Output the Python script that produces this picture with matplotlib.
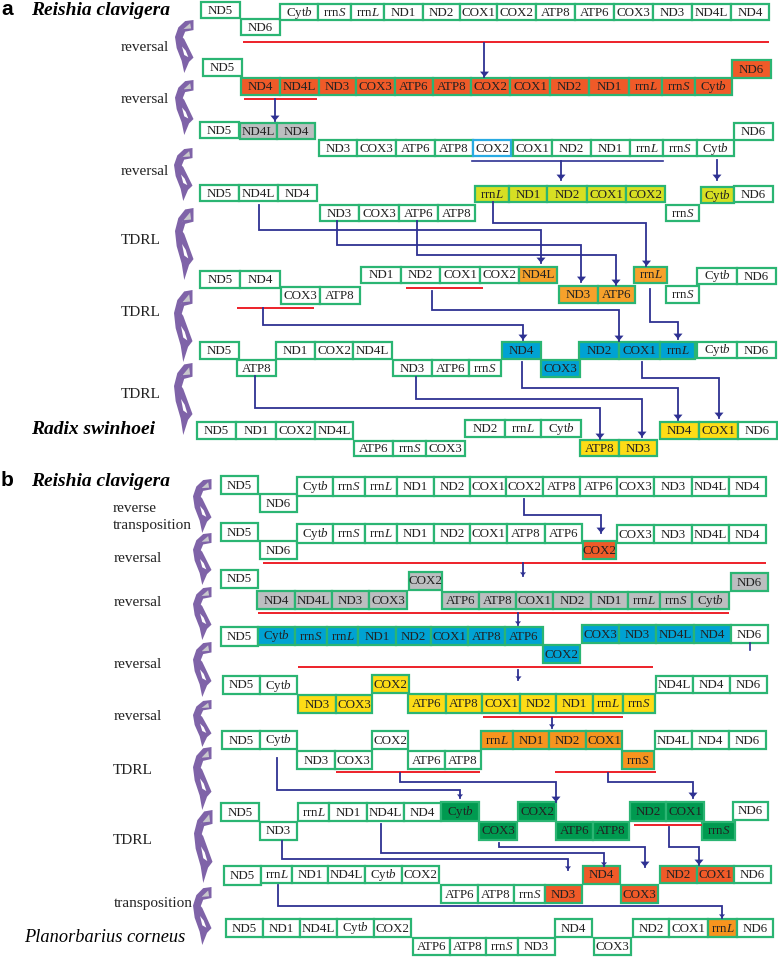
import matplotlib
matplotlib.use("Agg")
import matplotlib.pyplot as plt
from matplotlib.patches import Polygon, Rectangle

plt.rcParams['font.family'] = ['Liberation Serif', 'DejaVu Serif']
plt.rcParams['mathtext.fontset'] = 'custom'
plt.rcParams['mathtext.rm'] = 'Liberation Serif'
plt.rcParams['mathtext.it'] = 'Liberation Serif:italic'

WHITE = 'white'
RED_ORANGE = '#F05A28'
GRAY = '#BCBEC0'
LIME = '#D7DF23'
AMBER = '#F7A12B'
BLUE = '#00A2D3'
YELLOW = '#FDDC16'
GREEN = '#009A50'
ORANGE = '#F7941E'

# gene order of each genome row, read left to right
a_genes = [
    "ND5 ND6 Cytb rrnS rrnL ND1 ND2 COX1 COX2 ATP8 ATP6 COX3 ND3 ND4L ND4".split(),
    "ND5 ND4 ND4L ND3 COX3 ATP6 ATP8 COX2 COX1 ND2 ND1 rrnL rrnS Cytb ND6".split(),
    "ND5 ND4L ND4 ND3 COX3 ATP6 ATP8 COX2 COX1 ND2 ND1 rrnL rrnS Cytb ND6".split(),
    "ND5 ND4L ND4 ND3 COX3 ATP6 ATP8 rrnL ND1 ND2 COX1 COX2 rrnS Cytb ND6".split(),
    "ND5 ND4 COX3 ATP8 ND1 ND2 COX1 COX2 ND4L ND3 ATP6 rrnL rrnS Cytb ND6".split(),
    "ND5 ATP8 ND1 COX2 ND4L ND3 ATP6 rrnS ND4 COX3 ND2 COX1 rrnL Cytb ND6".split(),
    "ND5 ND1 COX2 ND4L ATP6 rrnS COX3 ND2 rrnL Cytb ATP8 ND3 ND4 COX1 ND6".split(),
]
b_genes = [
    "ND5 ND6 Cytb rrnS rrnL ND1 ND2 COX1 COX2 ATP8 ATP6 COX3 ND3 ND4L ND4".split(),
    "ND5 ND6 Cytb rrnS rrnL ND1 ND2 COX1 ATP8 ATP6 COX2 COX3 ND3 ND4L ND4".split(),
    "ND5 ND4 ND4L ND3 COX3 COX2 ATP6 ATP8 COX1 ND2 ND1 rrnL rrnS Cytb ND6".split(),
    "ND5 Cytb rrnS rrnL ND1 ND2 COX1 ATP8 ATP6 COX2 COX3 ND3 ND4L ND4 ND6".split(),
    "ND5 Cytb ND3 COX3 COX2 ATP6 ATP8 COX1 ND2 ND1 rrnL rrnS ND4L ND4 ND6".split(),
    "ND5 Cytb ND3 COX3 COX2 ATP6 ATP8 rrnL ND1 ND2 COX1 rrnS ND4L ND4 ND6".split(),
    "ND5 ND3 rrnL ND1 ND4L ND4 Cytb COX3 COX2 ATP6 ATP8 ND2 COX1 rrnS ND6".split(),
    "ND5 rrnL ND1 ND4L Cytb COX2 ATP6 ATP8 rrnS ND3 ND4 COX3 ND2 COX1 ND6".split(),
    "ND5 ND1 ND4L Cytb COX2 ATP6 ATP8 rrnS ND3 ND4 COX3 ND2 COX1 rrnL ND6".split(),
]

# layout, in reference pixels: (top, bottom, fill, box edges); genes are taken in order
a_layout = [
    [(2, 18, WHITE, [201, 240]), (19, 35, WHITE, [241, 280]),
     (4, 20, WHITE, [280, 318, 351, 384, 423, 460, 497, 536, 575, 614, 653, 692, 731, 769])],
    [(59, 76, WHITE, [203, 242]),
     (78, 95, RED_ORANGE, [241, 280, 319, 356, 395, 433, 471, 510, 550, 589, 629, 662, 695, 732]),
     (60, 78, RED_ORANGE, [732, 771])],
    [(122, 138, WHITE, [200, 239]), (123, 139, GRAY, [240, 277, 315]),
     (140, 156, WHITE, [319, 357, 396, 435, 473]), (140, 156, WHITE, [473, 511]),
     (140, 156, WHITE, [513, 552, 591, 630, 663, 697, 734]), (123, 140, WHITE, [734, 773])],
    [(185, 201, WHITE, [200, 239, 278, 317]), (205, 221, WHITE, [320, 359, 399, 438, 475]),
     (186, 202, LIME, [475, 509, 547, 587, 626, 665]), (205, 221, WHITE, [666, 699]),
     (187, 203, LIME, [701, 734]), (186, 202, WHITE, [734, 773])],
    [(271, 288, WHITE, [200, 240, 280]), (287, 304, WHITE, [281, 320, 360]),
     (267, 283, WHITE, [361, 401, 440, 480, 519]), (267, 283, AMBER, [519, 557]),
     (286, 303, AMBER, [559, 598, 635]), (267, 283, AMBER, [634, 667]),
     (286, 303, WHITE, [666, 699]), (268, 284, WHITE, [697, 737, 776])],
    [(342, 359, WHITE, [200, 239]), (360, 376, WHITE, [237, 276]),
     (342, 359, WHITE, [276, 315, 353, 392]), (360, 376, WHITE, [393, 432, 469, 501]),
     (342, 359, BLUE, [502, 541]), (360, 377, BLUE, [541, 580]),
     (342, 359, BLUE, [579, 619, 660, 695]), (342, 358, WHITE, [697, 737, 776])],
    [(422, 439, WHITE, [197, 236, 276, 315, 353]), (441, 456, WHITE, [354, 393, 426, 465]),
     (420, 437, WHITE, [465, 505, 541, 581]), (440, 456, YELLOW, [580, 619, 657]),
     (422, 439, YELLOW, [660, 699, 738]), (422, 439, WHITE, [738, 777])],
]
b_layout = [
    [(476, 494, WHITE, [221, 258]), (494, 512, WHITE, [260, 297]),
     (477, 496, WHITE, [297, 333, 365, 397, 434, 470, 506, 543, 580, 617, 654, 692, 729, 766])],
    [(523, 541, WHITE, [221, 258]), (541, 559, WHITE, [260, 297]),
     (524, 543, WHITE, [297, 333, 365, 397, 434, 470, 507, 545, 582]),
     (541, 559, RED_ORANGE, [583, 616]), (525, 543, WHITE, [617, 654, 692, 729, 766])],
    [(570, 588, WHITE, [221, 258]), (591, 609, GRAY, [257, 295, 332, 369, 407]),
     (572, 590, GRAY, [409, 442]), (592, 609, GRAY, [442, 479, 516, 553, 591, 628, 660, 692, 729]),
     (573, 591, GRAY, [731, 768])],
    [(627, 646, WHITE, [221, 258]), (627, 645, BLUE, [258, 295, 327, 358, 396, 431, 468, 505, 543]),
     (645, 663, BLUE, [543, 580]), (625, 643, BLUE, [582, 619, 656, 694, 731]),
     (625, 643, WHITE, [731, 768])],
    [(676, 694, WHITE, [223, 260, 297]), (695, 713, YELLOW, [298, 336, 372]),
     (675, 693, YELLOW, [372, 409]), (694, 713, YELLOW, [408, 446, 482, 520, 556, 593, 623, 655]),
     (676, 693, WHITE, [656, 693, 730, 767])],
    [(731, 749, WHITE, [222, 260, 297]), (751, 769, WHITE, [297, 335, 372]),
     (731, 749, WHITE, [372, 408]), (751, 769, WHITE, [408, 445, 481]),
     (731, 749, ORANGE, [481, 513, 549, 586, 622]), (751, 769, ORANGE, [622, 654]),
     (731, 749, WHITE, [655, 692, 729, 766])],
    [(803, 821, WHITE, [221, 259]), (822, 840, WHITE, [260, 297]),
     (803, 821, WHITE, [298, 329, 367, 404, 441]), (802, 821, GREEN, [441, 479]),
     (822, 840, GREEN, [479, 517]), (802, 821, GREEN, [518, 556]),
     (822, 840, GREEN, [556, 593, 629]), (802, 821, GREEN, [630, 666, 704]),
     (822, 840, GREEN, [702, 735]), (802, 820, WHITE, [733, 768])],
    [(866, 885, WHITE, [224, 261]), (866, 883, WHITE, [261, 292, 328, 365, 402, 439]),
     (885, 903, WHITE, [441, 478, 514, 545]), (885, 903, RED_ORANGE, [545, 582]),
     (866, 884, RED_ORANGE, [583, 620]), (885, 903, RED_ORANGE, [621, 658]),
     (866, 883, RED_ORANGE, [660, 697, 734]), (866, 883, WHITE, [734, 771])],
    [(919, 937, WHITE, [226, 263, 300, 337, 374, 411]), (938, 955, WHITE, [413, 450, 486, 518, 555]),
     (919, 937, WHITE, [555, 592]), (938, 955, WHITE, [594, 631]),
     (919, 937, WHITE, [633, 669, 708]), (919, 937, ORANGE, [708, 737]),
     (919, 937, WHITE, [737, 773])],
]

# red bars: (y, x0, x1)
red_bars = [(42, 243, 769), (98.5, 244, 317), (288, 406, 483), (308, 237, 314),
            (562.5, 263, 766), (612.5, 258, 729), (667, 298, 653), (717, 483, 623),
            (772, 336, 480), (772, 555, 656), (825, 634, 702)]

# connectors: corner points, the last one carries the arrow head
arrows = [
    [(484.5, 43), (484.5, 77)], [(275, 99), (275, 121)],
    [(561, 161), (561, 180)], [(717, 160), (717, 180)],
    [(259, 205), (259, 230), (541, 230), (541, 263)],
    [(337, 221), (337, 245), (581.5, 245), (581.5, 282)],
    [(417, 221), (417, 255), (616, 255), (616, 285)],
    [(493, 202), (493, 223), (646.5, 223), (646.5, 266)],
    [(263, 308), (263, 324.5), (523, 324.5), (523, 340)],
    [(432, 291), (432, 310), (619, 310), (619, 341)],
    [(650, 289), (650, 322), (678, 322), (678, 339)],
    [(255.5, 376), (255.5, 407.5), (600, 407.5), (600, 439)],
    [(416, 377), (416, 399), (642, 399), (642, 437)],
    [(522, 362), (522, 388), (678, 388), (678, 420)],
    [(642, 362), (642, 378), (719, 378), (719, 418)],
    [(524, 499), (524, 514.5), (601, 514.5), (601, 533)],
    [(523, 563), (523, 576)], [(518, 613), (518, 625)],
    [(518.5, 670), (518.5, 680)], [(552, 718), (552, 728)],
    [(277.5, 758), (277.5, 789.5), (460, 789.5), (460, 798)],
    [(400, 773), (400, 782), (556, 782), (556, 802)],
    [(608, 773), (608, 782), (693, 782), (693, 798)],
    [(282, 841), (282, 859), (568, 859), (568, 870)],
    [(381, 824), (381, 853), (604, 853), (604, 866)],
    [(499, 843), (499, 847), (645, 847), (645, 867)],
    [(669, 827), (669, 847), (699, 847), (699, 865)],
    [(278, 885), (278, 905.5), (722, 905.5), (722, 918)],
]
blue_bar = [(472, 663, 161)]
stub = [(750, 643, 650)]

# curved purple signs: (left x, top y, bottom y)
signs = [(175, 20, 73), (175, 80, 135), (174, 148, 201), (175, 208, 280), (174, 290, 362),
         (174, 363, 435), (193, 479, 533), (193, 533, 585), (193, 587, 640), (193, 642, 697),
         (193, 700, 747), (193, 747, 810), (194, 810, 883), (193, 887, 945)]

# event labels: (text, x, y)
events = [("reversal", 121, 47), ("reversal", 121, 99), ("reversal", 121, 171),
          ("TDRL", 121, 240), ("TDRL", 121, 312), ("TDRL", 121, 395),
          ("reverse", 113, 508), ("transposition", 113, 525), ("reversal", 114, 558),
          ("reversal", 114, 603), ("reversal", 114, 665), ("reversal", 114, 717),
          ("TDRL", 113, 771), ("TDRL", 113, 841), ("transposition", 114, 903)]

species = [("Reishia clavigera", 31, 10, 'bold', 14), ("Radix swinhoei", 31, 430, 'bold', 14),
           ("Reishia clavigera", 31, 481, 'bold', 14), ("Planorbarius corneus", 24, 938, 'normal', 13.2)]

# outline of the sign in a 0-1 box
SIGN_BODY = [(1, 0), (1, 0.19), (0.55, 0.22), (0.42, 0.33), (0.5, 0.36), (1, 0.71), (0.76, 0.79),
             (0.5, 1.0), (0.36, 0.77), (0.09, 0.53), (0, 0.32), (0.18, 0.14), (0.55, 0.02)]
SIGN_GRAY = [(0.33, 0.21), (0.82, 0.06), (0.87, 0.16), (0.45, 0.17)]
SIGN_HOLE = [(0.38, 0.5), (0.58, 0.58), (0.72, 0.7), (0.5, 0.66)]


def gene_text(name):
    if name == "Cytb":
        return r"Cyt$\mathit{b}$"
    if name in ("rrnS", "rrnL"):
        return "rrn$\\mathit{" + name[-1] + "}$"
    return name


def draw_rows(ax, genes, layout):
    for names, row in zip(genes, layout):
        i = 0
        for top, bottom, fill, edges in row:
            for x0, x1 in zip(edges[:-1], edges[1:]):
                # one COX2 box in panel a has a blue outline
                edge = '#29ABE2' if (x0 == 473 and top == 140) else '#2BB573'
                ax.add_patch(Rectangle((x0, top), x1 - x0, bottom - top, facecolor=fill,
                                       edgecolor=edge, linewidth=1.6, zorder=2))
                ax.text((x0 + x1) / 2, (top + bottom) / 2 + 0.5, gene_text(names[i]),
                        ha='center', va='center', fontsize=9.4, color='#222222', zorder=3)
                i += 1


def draw_sign(ax, x, top, bottom):
    w = 18.5
    h = bottom - top
    def place(pts):
        return [(x + u * w, top + v * h) for u, v in pts]
    ax.add_patch(Polygon(place(SIGN_BODY), closed=True, facecolor='#7F63A8', edgecolor='none', zorder=2))
    ax.add_patch(Polygon(place(SIGN_GRAY), closed=True, facecolor='#C8C8CC', edgecolor='none', zorder=3))
    ax.add_patch(Polygon(place(SIGN_HOLE), closed=True, facecolor='white', edgecolor='none', zorder=3))


fig = plt.figure(figsize=(7.78, 9.58), dpi=100)
ax = fig.add_axes([0, 0, 1, 1])
ax.set_xlim(0, 778)
ax.set_ylim(958, 0)
ax.axis('off')

draw_rows(ax, a_genes, a_layout)
draw_rows(ax, b_genes, b_layout)

for y, x0, x1 in red_bars:
    ax.plot([x0, x1], [y, y], color='#ED2029', lw=1.4, solid_capstyle='butt', zorder=4)

NAVY = '#2E3192'
for x0, x1, y in blue_bar:
    ax.plot([x0, x1], [y, y], color=NAVY, lw=1.2, zorder=4)
for x, y0, y1 in stub:
    ax.plot([x, x], [y0, y1], color=NAVY, lw=1.2, zorder=4)
for pts in arrows:
    ax.plot([p[0] for p in pts], [p[1] for p in pts], color=NAVY, lw=1.3,
            solid_joinstyle='miter', zorder=4)
    tx, ty = pts[-1]
    size = 3 if ty - pts[-2][1] < 15 else 4.5
    ax.add_patch(Polygon([(tx - size, ty - size * 1.2), (tx + size, ty - size * 1.2), (tx, ty)],
                         closed=True, facecolor=NAVY, edgecolor='none', zorder=4))

for x, top, bottom in signs:
    draw_sign(ax, x, top, bottom)

for text, x, y in events:
    ax.text(x, y, text, ha='left', va='center', fontsize=11, color='#222222')

for text, x, y, weight, size in species:
    ax.text(x, y, text, ha='left', va='center', fontsize=size, style='italic',
            fontweight=weight, color='black')

ax.text(1, 9, "a", ha='left', va='center', fontsize=15, fontweight='bold', family='Liberation Sans')
ax.text(1, 480, "b", ha='left', va='center', fontsize=15, fontweight='bold', family='Liberation Sans')

fig.savefig("out.png", dpi=100)
